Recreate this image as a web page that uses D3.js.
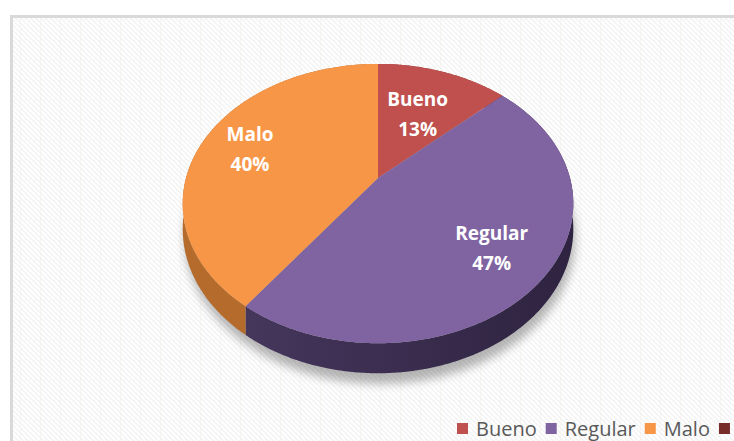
<!DOCTYPE html>
<html>
<head>
<meta charset="utf-8">
<script src="https://cdn.jsdelivr.net/npm/d3@7"></script>
<style>
  body { margin: 0; background: #fff; }
  svg { display: block; }
  .lbl { font-family: "Open Sans", sans-serif; font-weight: bold; fill: #fff; }
  .leg { font-family: "Open Sans", sans-serif; fill: #595959; }
</style>
</head>
<body>
<div id="chart"></div>
<script>
// data
var categories = ["Bueno", "Regular", "Malo"];
var values = [13, 47, 40];
var pctLabels = ["13%", "47%", "40%"];

var topColors = ["#C0504D", "#8064A2", "#F79646"];
var sideColors = ["#8a3634", "url(#sideRegular)", "#b56b2b"];
// 4th legend swatch, its label runs off the picture
var extraSwatch = "#772C2A";
// how far out each label sits (fraction of radius)
var labelR = [0.57, 0.72, 0.73];

var width = 734, height = 441;

var svg = d3.select("#chart").append("svg")
  .attr("width", width)
  .attr("height", height);

var defs = svg.append("defs");

// hatched background of the chart area
var pat = defs.append("pattern")
  .attr("id", "hatch")
  .attr("patternUnits", "userSpaceOnUse")
  .attr("width", 20)
  .attr("height", 20);
pat.append("rect").attr("width", 20).attr("height", 20).attr("fill", "#f3f3f3");
d3.range(-20, 25, 5).forEach(function(c) {
  pat.append("line")
    .attr("x1", c).attr("y1", 0)
    .attr("x2", c + 20).attr("y2", 20)
    .attr("stroke", "#ffffff")
    .attr("stroke-width", 2);
});
pat.append("line")
  .attr("x1", 0.5).attr("y1", 0).attr("x2", 0.5).attr("y2", 20)
  .attr("stroke", "#f5eee8").attr("stroke-width", 1)
  .attr("opacity", 0.6);

var grad = defs.append("linearGradient")
  .attr("id", "sideRegular")
  .attr("x1", "0%").attr("x2", "100%").attr("y1", "0%").attr("y2", "0%");
grad.append("stop").attr("offset", "0%").attr("stop-color", "#45365c");
grad.append("stop").attr("offset", "100%").attr("stop-color", "#2e2340");

var blur = defs.append("filter").attr("id", "shadow")
  .attr("x", "-20%").attr("y", "-20%").attr("width", "140%").attr("height", "140%");
blur.append("feGaussianBlur").attr("stdDeviation", 5);

// frame
svg.append("rect")
  .attr("x", 11.5).attr("y", 16.5)
  .attr("width", 740).attr("height", 440)
  .attr("fill", "url(#hatch)")
  .attr("stroke", "#d9d9d9")
  .attr("stroke-width", 3);

// tilted pie projection
var cx = 378, cy = 178;
var R = 192, T = 135, k = 0.183, depth = 24.5;

function proj(a, f, z) {
  var u = f * Math.sin(a), d = -f * Math.cos(a);
  var s = 1 / (1 - k * d);
  return [cx + R * u * s, cy + T * d * s + z * depth * s];
}

var pie = d3.pie().sort(null).startAngle(0).endAngle(2 * Math.PI);
var arcs = pie(values);

var line = d3.line().curve(d3.curveLinearClosed);

function arcPts(a0, a1, z) {
  var n = Math.max(2, Math.ceil((a1 - a0) / 0.01));
  return d3.range(n + 1).map(function(i) {
    return proj(a0 + (a1 - a0) * i / n, 1, z);
  });
}

// soft shadow under the pie
svg.append("path")
  .attr("d", line(arcPts(0, 2 * Math.PI, 1.25).map(function(p) { return [p[0] + 2, p[1] + 3]; })))
  .attr("fill", "#000")
  .attr("opacity", 0.28)
  .attr("filter", "url(#shadow)");

var pieG = svg.append("g");

// outer walls
pieG.selectAll("path.side")
  .data(arcs)
  .enter().append("path")
  .attr("class", "side")
  .attr("d", function(d) {
    var top = arcPts(d.startAngle, d.endAngle, 0);
    var bot = arcPts(d.startAngle, d.endAngle, 1).reverse();
    return line(top.concat(bot));
  })
  .attr("fill", function(d) { return sideColors[d.index]; });

// top faces
pieG.selectAll("path.top")
  .data(arcs)
  .enter().append("path")
  .attr("class", "top")
  .attr("d", function(d) {
    return line([proj(0, 0, 0)].concat(arcPts(d.startAngle, d.endAngle, 0)));
  })
  .attr("fill", function(d) { return topColors[d.index]; });

// labels
var labels = pieG.selectAll("g.lab")
  .data(arcs)
  .enter().append("g")
  .attr("class", "lab")
  .attr("transform", function(d) {
    var p = proj((d.startAngle + d.endAngle) / 2, labelR[d.index], 0);
    return "translate(" + p[0] + "," + p[1] + ")";
  });

labels.append("text")
  .attr("class", "lbl")
  .attr("text-anchor", "middle")
  .attr("y", -8)
  .style("font-size", "19px")
  .text(function(d) { return categories[d.index]; });

labels.append("text")
  .attr("class", "lbl")
  .attr("text-anchor", "middle")
  .attr("y", 22)
  .style("font-size", "19px")
  .text(function(d) { return pctLabels[d.index]; });

// legend
var legend = svg.append("g").attr("transform", "translate(457,0)");
var lx = 0;
categories.forEach(function(c, i) {
  var g = legend.append("g").attr("transform", "translate(" + lx + ",0)");
  g.append("rect")
    .attr("x", 0).attr("y", 423)
    .attr("width", 11).attr("height", 11)
    .attr("fill", topColors[i]);
  var t = g.append("text")
    .attr("class", "leg")
    .attr("x", 19).attr("y", 436)
    .style("font-size", "20px")
    .text(c);
  lx += 19 + t.node().getComputedTextLength() + 9;
});
legend.append("rect")
  .attr("x", lx).attr("y", 423)
  .attr("width", 11).attr("height", 11)
  .attr("fill", extraSwatch);
</script>
</body>
</html>
